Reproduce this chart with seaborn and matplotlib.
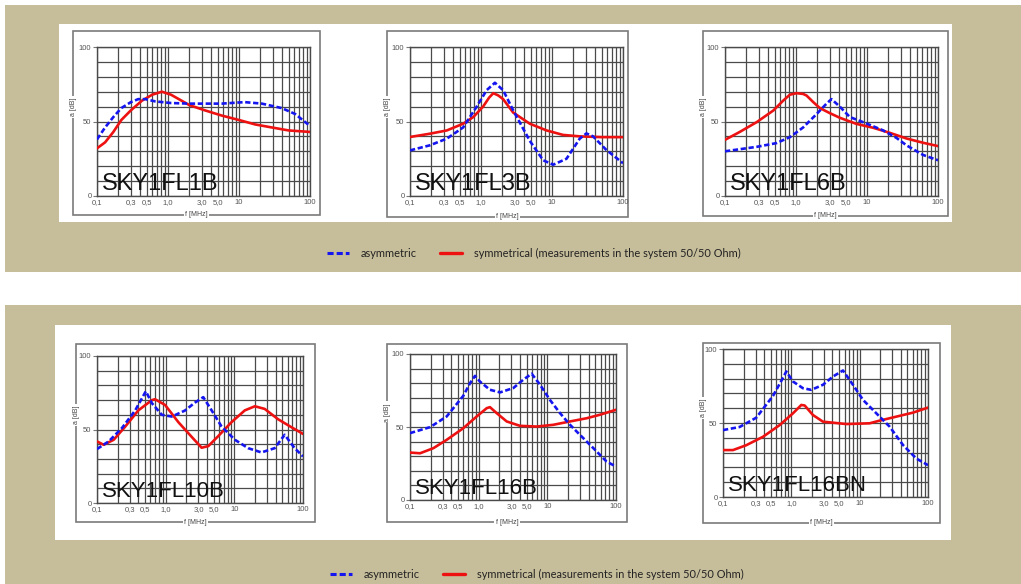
import matplotlib
matplotlib.use("Agg")
import matplotlib.pyplot as plt
import seaborn as sns
from matplotlib.patches import Rectangle
from matplotlib.lines import Line2D
from matplotlib.ticker import FixedLocator, LogLocator, MultipleLocator, NullFormatter

# ---- data (frequency in MHz, attenuation in dB) ----
names = ["SKY1FL1B", "SKY1FL3B", "SKY1FL6B", "SKY1FL10B", "SKY1FL16B", "SKY1FL16BN"]

f1_asym = [0.1, 0.13, 0.17, 0.22, 0.3, 0.38, 0.48, 0.66, 1.1, 2.0, 5.7, 12, 21, 40, 62, 100]
a1_asym = [38, 46, 53, 59, 63, 65, 65, 63.5, 62.4, 62, 62, 63, 62, 59, 55, 47]
f1_sym = [0.1, 0.13, 0.17, 0.22, 0.3, 0.43, 0.6, 0.82, 1.1, 2.0, 3.3, 5.7, 10, 17, 29, 50, 100]
a1_sym = [32, 36, 43, 51, 57.5, 64, 68, 70, 68, 61, 57.5, 54, 51, 48, 46, 44, 43]

f2_asym = [0.1, 0.19, 0.33, 0.56, 0.87, 1.2, 1.57, 2.05, 2.84, 4.87, 7.5, 10.4, 16, 24.6, 30.5, 38, 58, 100]
a2_asym = [30.6, 34, 38.5, 46, 60, 71, 76, 71, 57.5, 37, 24, 21, 25, 38.5, 42, 40, 31, 22]
f2_sym = [0.1, 0.19, 0.33, 0.56, 0.78, 1.07, 1.3, 1.49, 1.75, 2.05, 2.84, 4.87, 8.4, 14.3, 25, 50, 100]
a2_sym = [39.6, 41.8, 44, 48.5, 53, 60, 66, 69, 67.5, 65, 56, 48.5, 44, 41, 40, 39.5, 39.5]

f3_asym = [0.1, 0.28, 0.53, 0.82, 1.26, 1.95, 2.69, 3.16, 4.14, 5.73, 9.8, 16.9, 26, 36, 62, 100]
a3_asym = [30, 33, 35.5, 39.5, 46, 55, 62, 65, 60, 53, 48.7, 44, 39, 34, 27.5, 24]
f3_sym = [0.1, 0.16, 0.28, 0.48, 0.66, 0.82, 1.02, 1.26, 1.41, 1.75, 2.17, 3.0, 4.14, 7.1, 12.2, 20.9, 36, 62, 100]
a3_sym = [37.7, 42.9, 49.6, 57.4, 64, 68, 69, 68.5, 67.4, 63, 59, 55.6, 52.5, 48.4, 45.8, 42.4, 38.6, 35.7, 33.5]

f4_asym = [0.1, 0.148, 0.231, 0.36, 0.514, 0.628, 0.878, 1.23, 1.91, 2.67, 3.53, 4.67, 6.52, 10.2, 15.9, 24.8, 38.7, 54.1, 75.6, 100]
a4_asym = [36.7, 41.9, 51, 63, 76, 68, 60, 58.8, 62.9, 68.3, 72, 63, 52, 43, 37.3, 34.4, 37.3, 46.4, 37.3, 31.7]
f4_sym = [0.1, 0.125, 0.175, 0.258, 0.4, 0.63, 0.7, 0.98, 1.53, 2.39, 3.34, 4.18, 5.83, 9.1, 14.2, 19.9, 27.7, 43.3, 67.6, 100]
a4_sym = [41.9, 39.6, 43, 52, 63, 70, 70.6, 66.7, 55, 45, 37.6, 38.7, 45.5, 55, 63, 65.8, 64, 57, 51.6, 47]

f5_asym = [0.1, 0.196, 0.342, 0.598, 0.748, 0.885, 1.05, 1.46, 2.05, 3.2, 4.47, 5.91, 7.82, 10.9, 15.3, 21.4, 29.9, 46.8, 73.1, 100]
a5_asym = [45.8, 49.9, 57.2, 71.4, 80, 85, 81, 75.5, 73.7, 76.7, 82.4, 86.5, 79, 68.6, 59.5, 51.5, 44.6, 35.5, 26.3, 22.9]
f5_sym = [0.1, 0.14, 0.219, 0.342, 0.598, 0.935, 1.31, 1.46, 1.83, 2.56, 4.0, 7.0, 12.2, 21.4, 37.4, 58.5, 100]
a5_sym = [32.5, 32, 35.5, 41.2, 49.2, 57.2, 62.9, 63.6, 59.5, 53.8, 50.8, 50.3, 51.5, 53.8, 56, 58.4, 61.8]

f6_asym = [0.1, 0.175, 0.307, 0.539, 0.714, 0.845, 1.06, 1.48, 1.96, 2.9, 4.07, 5.7, 7.98, 11.2, 19.6, 27.5, 43.1, 67.5, 100]
a6_asym = [45.2, 47.3, 53.6, 68.3, 78.5, 84.8, 78, 73.5, 72.4, 75.8, 81.4, 85.5, 75.8, 65.6, 54.3, 47.5, 35.1, 26, 21.5]
f6_sym = [0.1, 0.14, 0.219, 0.385, 0.675, 1.06, 1.4, 1.57, 2.07, 2.9, 6.38, 14, 19.6, 34.4, 60.3, 100]
a6_sym = [31.7, 31.7, 35, 40.7, 48.6, 56.6, 62.2, 61.8, 55.4, 50.9, 49.3, 49.8, 51.6, 54.3, 57, 60.4]

xticks = [0.1, 0.3, 0.5, 1, 3, 5, 10, 100]
xticklabels = ["0,1", "0,3", "0,5", "1,0", "3,0", "5,0", "10", "100"]
yticks = [0, 50, 100]
legend_labels = ["asymmetric", "symmetrical (measurements in the system 50/50 Ohm)"]

series = [
    (f1_asym, a1_asym, f1_sym, a1_sym),
    (f2_asym, a2_asym, f2_sym, a2_sym),
    (f3_asym, a3_asym, f3_sym, a3_sym),
    (f4_asym, a4_asym, f4_sym, a4_sym),
    (f5_asym, a5_asym, f5_sym, a5_sym),
    (f6_asym, a6_asym, f6_sym, a6_sym),
]

# ---- layout (pixel boxes, top-left origin) ----
W, H = 1021, 584
BEIGE = "#c6bd9a"
BLUE = "#1515f0"
RED = "#ee1111"
GRID = "#4a4a4a"
blue_ls = (0, (2.0, 1.0))

frames = [(73, 31, 320, 215), (387, 31, 628, 217), (703, 31, 948, 216),
          (76, 344, 315, 522), (387, 344, 627, 522), (703, 343, 940, 523)]
axboxes = [(97, 47, 310, 196), (410, 47, 623, 196), (725, 47, 938, 196),
           (97, 356, 303, 503), (410, 354, 616, 500), (723, 349, 928, 497)]
name_sizes = [17, 17, 17, 16, 16, 16]


def fbox(x0, y0, x1, y1):
    return [x0 / W, 1 - y1 / H, (x1 - x0) / W, (y1 - y0) / H]


sns.set_style("white")
plt.rcParams["font.family"] = ["Liberation Sans", "DejaVu Sans"]

fig = plt.figure(figsize=(W / 100, H / 100), dpi=100)
fig.patch.set_facecolor("white")

for x0, y0, x1, y1, c in [(5, 5, W, 272, BEIGE), (5, 305, W, H, BEIGE),
                          (59, 24, 952, 222, "white"), (55, 325, 951, 540, "white")]:
    b = fbox(x0, y0, x1, y1)
    fig.patches.append(Rectangle((b[0], b[1]), b[2], b[3], transform=fig.transFigure,
                                 facecolor=c, edgecolor="none", zorder=-3))

for i, (fa, aa, fs, as_) in enumerate(series):
    fx0, fy0, fx1, fy1 = frames[i]
    b = fbox(fx0, fy0, fx1, fy1)
    fig.patches.append(Rectangle((b[0], b[1]), b[2], b[3], transform=fig.transFigure,
                                 facecolor="none", edgecolor="#7a7a7a", lw=1.2, zorder=-2))

    ax = fig.add_axes(fbox(*axboxes[i]))
    ax.set_zorder(1)
    ax.set_facecolor("white")
    sns.lineplot(x=fs, y=as_, ax=ax, color=RED, linewidth=1.9, estimator=None,
                 sort=False, zorder=4)
    sns.lineplot(x=fa, y=aa, ax=ax, color=BLUE, linewidth=1.9, linestyle=blue_ls,
                 estimator=None, sort=False, zorder=5)
    ax.set_xscale("log")
    ax.set_xlim(0.1, 100)
    ax.set_ylim(0, 100)
    ax.xaxis.set_major_locator(FixedLocator(xticks))
    ax.set_xticklabels(xticklabels)
    ax.xaxis.set_minor_locator(LogLocator(base=10, subs=range(1, 10), numticks=20))
    ax.xaxis.set_minor_formatter(NullFormatter())
    ax.yaxis.set_major_locator(FixedLocator(yticks))
    ax.yaxis.set_minor_locator(MultipleLocator(10))
    ax.grid(which="both", color=GRID, lw=0.9)
    ax.set_axisbelow(True)
    for s in ax.spines.values():
        s.set_color(GRID)
        s.set_linewidth(1.0)
    ax.tick_params(axis="x", which="both", length=0, labelsize=5.5, labelcolor="#555555", pad=2)
    ax.tick_params(axis="y", which="major", length=3, width=0.8, color="#777777",
                   labelsize=5.5, labelcolor="#555555", pad=1, left=True)
    ax.tick_params(axis="y", which="minor", length=0)
    ax.set_xlabel("")
    ax.set_ylabel("")
    ax.text(0.025, 0.04, names[i], transform=ax.transAxes, fontsize=name_sizes[i],
            color="#111111", ha="left", va="baseline", zorder=3)

    # axis titles sit on the frame line
    fig.text((fx0 + fx1) / 2 / W, 1 - fy1 / H, "f [MHz]", fontsize=5, color="#444444",
             ha="center", va="center",
             bbox=dict(facecolor="white", edgecolor="none", pad=1.2))
    ax_y0, ax_y1 = axboxes[i][1], axboxes[i][3]
    ymid = ax_y1 - 0.6 * (ax_y1 - ax_y0)
    fig.text(fx0 / W, 1 - ymid / H, "a [dB]", fontsize=5, color="#444444", rotation=90,
             ha="center", va="center",
             bbox=dict(facecolor="white", edgecolor="none", pad=1.2))

handles = [Line2D([], [], color=BLUE, lw=2.2, linestyle=blue_ls),
           Line2D([], [], color=RED, lw=2.4)]
for cx, cy in [(533.5, 253), (536.5, 574)]:
    fig.legend(handles, legend_labels, ncol=2, loc="center",
               bbox_to_anchor=(cx / W, 1 - cy / H), frameon=False,
               prop={"family": ["Lato", "DejaVu Sans"], "size": 7.9},
               handlelength=2.0, handletextpad=1.1, columnspacing=2.1,
               labelcolor="#222222")

fig.savefig("out.png", dpi=100, facecolor=fig.get_facecolor())
